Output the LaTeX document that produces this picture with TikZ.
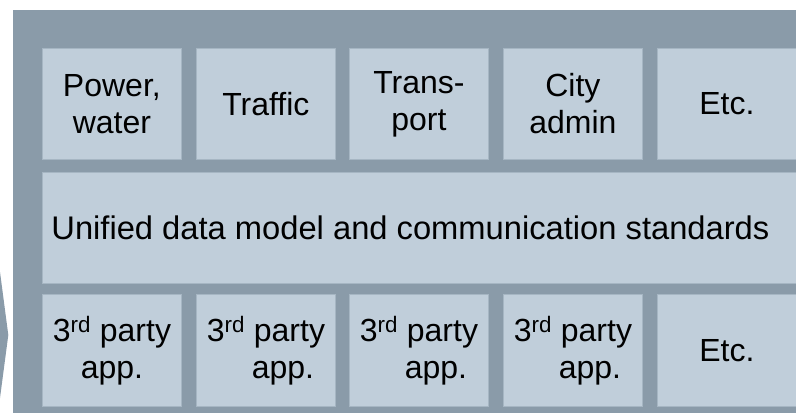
\documentclass[tikz,border=0pt]{standalone}
\usepackage{fontspec}
\setmainfont{Liberation Sans}
\definecolor{bgdark}{HTML}{8A9BA9}
\definecolor{boxlight}{HTML}{C0CEDA}
\definecolor{boxedge}{HTML}{A6B6C3}
\tikzset{
  cell/.style={fill=boxlight, draw=boxedge, line width=0.8pt, inner sep=0pt, anchor=north west,
    minimum width=139pt, align=center, font=\fontsize{32}{37}\selectfont},
  toprow/.style={cell, minimum height=111pt},
  botrow/.style={cell, minimum height=112pt},
  band/.style={cell, minimum width=754pt, minimum height=111pt, font=\fontsize{32.7}{37}\selectfont}
}
\begin{document}
\begin{tikzpicture}[x=1pt,y=-1pt]
\useasboundingbox (0,0) rectangle (796,413);
\fill[white] (0,0) rectangle (796,413);
\fill[bgdark] (13,10) rectangle (800,413);
\fill[bgdark] (0,272) -- (8.3,335) -- (0,398) -- cycle;
% top row
\node[toprow] (pw) at (42,48) {Power,\\water};
\node[toprow] (tr) at (196,48) {Traffic};
\node[toprow] (tp) at (349,48) {Trans-\\port};
\node[toprow] (ca) at (503,48) {City\\admin};
\node[toprow] (et1) at (657,48) {Etc.};
% band
\node[band] (um) at (42,172) {Unified data model and communication standards\hspace*{18pt}};
% bottom row
\node[botrow] (a1) at (42,294) {3\textsuperscript{rd} party\\app.};
\node[botrow] (a2) at (196,294) {3\textsuperscript{rd} party\\\hspace*{34pt}app.};
\node[botrow] (a3) at (349,294) {3\textsuperscript{rd} party\\\hspace*{34pt}app.};
\node[botrow] (a4) at (503,294) {3\textsuperscript{rd} party\\\hspace*{34pt}app.};
\node[botrow] (et2) at (657,294) {Etc.};
\end{tikzpicture}
\end{document}
